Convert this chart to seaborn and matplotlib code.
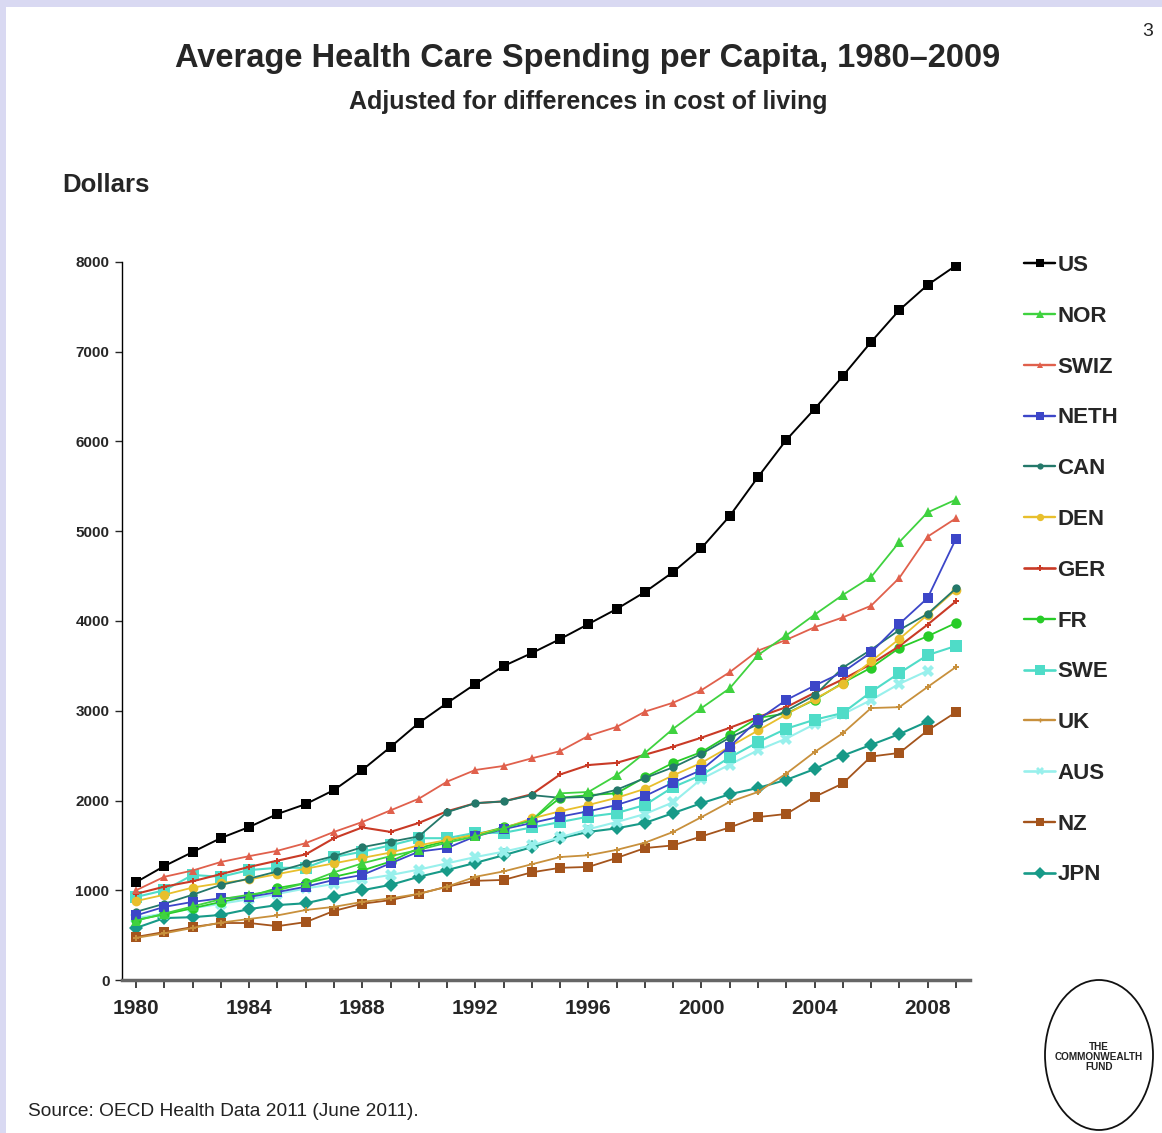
import matplotlib
matplotlib.use('Agg')
import matplotlib.pyplot as plt
from matplotlib.patches import Rectangle, Ellipse
from matplotlib.lines import Line2D
import pandas as pd
import seaborn as sns


years = list(range(1980, 2010))

us = [1090, 1270, 1426, 1582, 1705, 1850, 1960, 2117, 2340, 2596, 2864, 3086, 3298, 3498, 3643,
      3799, 3966, 4134, 4323, 4546, 4813, 5170, 5604, 6017, 6362, 6730, 7109, 7465, 7744, 7960]
nor = [660, 740, 820, 900, 950, 1000, 1080, 1200, 1300, 1380, 1450, 1530, 1600, 1690, 1780,
       2080, 2095, 2280, 2530, 2800, 3030, 3250, 3620, 3840, 4070, 4290, 4490, 4880, 5210, 5352]
swiz = [1000, 1150, 1220, 1315, 1380, 1440, 1525, 1650, 1760, 1890, 2020, 2210, 2340, 2385, 2470,
        2550, 2720, 2820, 2990, 3090, 3230, 3430, 3670, 3790, 3930, 4040, 4170, 4480, 4940, 5144]
neth = [720, 815, 870, 910, 925, 980, 1040, 1115, 1170, 1300, 1430, 1470, 1600, 1680, 1750,
        1820, 1880, 1950, 2050, 2200, 2340, 2600, 2900, 3120, 3280, 3430, 3650, 3967, 4256, 4914]
can = [760, 850, 950, 1060, 1130, 1210, 1300, 1380, 1480, 1540, 1600, 1870, 1970, 1990, 2060,
       2030, 2040, 2120, 2250, 2370, 2520, 2700, 2850, 3000, 3170, 3480, 3680, 3900, 4080, 4363]
den = [880, 950, 1030, 1080, 1120, 1180, 1240, 1300, 1360, 1420, 1500, 1560, 1620, 1690, 1800,
       1880, 1950, 2030, 2130, 2280, 2420, 2600, 2780, 2960, 3130, 3300, 3550, 3800, 4070, 4348]
ger = [960, 1040, 1100, 1180, 1260, 1330, 1400, 1580, 1700, 1650, 1750, 1880, 1970, 1990, 2070,
       2290, 2395, 2420, 2510, 2600, 2700, 2810, 2930, 3040, 3200, 3350, 3520, 3720, 3960, 4218]
fr = [670, 730, 800, 870, 930, 1025, 1080, 1150, 1220, 1320, 1470, 1550, 1620, 1700, 1780,
      2030, 2060, 2080, 2260, 2420, 2540, 2730, 2920, 2970, 3120, 3310, 3480, 3700, 3830, 3978]
swe = [925, 1000, 1170, 1150, 1225, 1250, 1250, 1370, 1430, 1500, 1580, 1580, 1640, 1640, 1700,
       1760, 1820, 1860, 1950, 2150, 2283, 2480, 2650, 2800, 2900, 2975, 3210, 3420, 3620, 3722]
uk = [470, 520, 580, 640, 680, 720, 780, 815, 870, 910, 960, 1040, 1150, 1210, 1290,
      1370, 1390, 1450, 1530, 1650, 1815, 1985, 2095, 2300, 2540, 2750, 3030, 3040, 3265, 3487]
aus = [690, 740, 800, 850, 900, 960, 1020, 1070, 1120, 1170, 1230, 1300, 1370, 1430, 1500,
       1590, 1680, 1760, 1850, 1980, 2240, 2400, 2560, 2690, 2850, 2960, 3120, 3300, 3445]
nz = [480, 535, 590, 635, 635, 600, 645, 770, 850, 890, 960, 1040, 1105, 1115, 1200,
      1250, 1260, 1360, 1470, 1500, 1600, 1700, 1815, 1850, 2040, 2190, 2490, 2530, 2780, 2983]
jpn = [580, 690, 700, 725, 790, 835, 855, 925, 1000, 1060, 1150, 1225, 1305, 1390, 1480,
       1580, 1650, 1690, 1750, 1860, 1970, 2070, 2140, 2230, 2350, 2500, 2620, 2740, 2880]

countries = ['US', 'NOR', 'SWIZ', 'NETH', 'CAN', 'DEN', 'GER', 'FR', 'SWE', 'UK', 'AUS', 'NZ', 'JPN']
series = [us, nor, swiz, neth, can, den, ger, fr, swe, uk, aus, nz, jpn]

# colour, marker, marker size, line width
styles = {
    'US':   ('#000000', 's', 7.5, 1.4),
    'NOR':  ('#3fd23f', '^', 7, 1.3),
    'SWIZ': ('#e0604c', '^', 6, 1.3),
    'NETH': ('#3c46c8', 's', 7, 1.3),
    'CAN':  ('#24786a', 'o', 6, 1.3),
    'DEN':  ('#e8bf2c', 'o', 7, 1.3),
    'GER':  ('#c93a26', 'P', 5, 1.5),
    'FR':   ('#28cc28', 'o', 7.5, 1.3),
    'SWE':  ('#4fdcc8', 's', 9, 1.5),
    'UK':   ('#c8903c', 'P', 4, 1.3),
    'AUS':  ('#98f0ec', 'X', 8, 1.5),
    'NZ':   ('#a4541c', 's', 7, 1.3),
    'JPN':  ('#179a88', 'D', 7.5, 1.5),
}

rows = []
for name, vals in zip(countries, series):
    for y, v in zip(years, vals):
        rows.append({'year': y, 'country': name, 'value': v})
df = pd.DataFrame(rows)

sns.set_style('white')
fam = ['Liberation Sans Narrow', 'Liberation Sans', 'DejaVu Sans']
plt.rcParams['font.family'] = fam

fig = plt.figure(figsize=(11.62, 11.33), dpi=100)
fig.patch.set_facecolor('white')
# lavender slide frame
fig.patches.append(Rectangle((0, 1 - 7 / 1133), 1, 7 / 1133, transform=fig.transFigure,
                             facecolor='#d9d9f2', edgecolor='none', zorder=0))
fig.patches.append(Rectangle((0, 0), 6 / 1162, 1, transform=fig.transFigure,
                             facecolor='#d9d9f2', edgecolor='none', zorder=0))

ax = fig.add_axes([122 / 1162, 153 / 1133, 848 / 1162, 718 / 1133])

draw_order = ['JPN', 'NZ', 'AUS', 'UK', 'SWE', 'FR', 'GER', 'DEN', 'CAN', 'NETH', 'SWIZ', 'NOR', 'US']
for name in draw_order:
    c, m, ms, lw = styles[name]
    sub = df[df['country'] == name]
    sns.lineplot(data=sub, x='year', y='value', ax=ax, color=c, marker=m, markersize=ms,
                 markeredgewidth=0, linewidth=lw, legend=False)

ax.set_xlim(1979.5, 2009.5)
ax.set_ylim(0, 8000)
ax.set_xlabel('')
ax.set_ylabel('')
ax.set_xticks(range(1980, 2009, 4))
ax.set_xticks(range(1980, 2010), minor=True)
ax.set_yticks(range(0, 8001, 1000))
for lab in ax.get_xticklabels():
    lab.set_fontsize(15)
    lab.set_fontweight('bold')
for lab in ax.get_yticklabels():
    lab.set_fontsize(11)
    lab.set_fontweight('bold')
ax.tick_params(axis='x', which='both', direction='out', length=6, width=1.2, color='#222222',
               bottom=True, pad=8)
ax.tick_params(axis='y', direction='out', length=5, width=1, left=True, pad=4)
sns.despine(ax=ax)
ax.spines['left'].set_color('#000000')
ax.spines['left'].set_linewidth(1)
ax.spines['bottom'].set_color('#666666')
ax.spines['bottom'].set_linewidth(2.5)

handles = []
for name in countries:
    c, m, ms, lw = styles[name]
    handles.append(Line2D([0], [0], color=c, marker=m, markersize=ms * 0.75,
                          markeredgewidth=0, linewidth=lw + 0.4))
leg = fig.legend(handles, countries, loc='upper left', bbox_to_anchor=(1013 / 1162, 1 - 244 / 1133),
                 frameon=False, prop={'family': fam, 'weight': 'bold', 'size': 16},
                 handlelength=1.4, handletextpad=0.1, labelspacing=1.34, borderpad=0)

fig.text(0.506, 1 - 58 / 1133, 'Average Health Care Spending per Capita, 1980\u20132009',
         ha='center', va='center', fontsize=23.5, fontweight='bold')
fig.text(0.506, 1 - 102 / 1133, 'Adjusted for differences in cost of living',
         ha='center', va='center', fontsize=18, fontweight='bold')
fig.text(62 / 1162, 1 - 185 / 1133, 'Dollars', ha='left', va='center', fontsize=18.5,
         fontweight='bold')
fig.text(1148 / 1162, 1 - 32 / 1133, '3', ha='center', va='center', fontsize=14)
fig.text(28 / 1162, 1 - 1112 / 1133, 'Source: OECD Health Data 2011 (June 2011).',
         ha='left', va='center', fontsize=13.8, color='#222222')

fig.patches.append(Ellipse((1099 / 1162, 1 - 1055 / 1133), 108 / 1162, 150 / 1133,
                           transform=fig.transFigure, facecolor='white', edgecolor='#111111',
                           linewidth=1.3))
fig.text(1099 / 1162, 1 - 1057 / 1133, 'THE\nCOMMONWEALTH\nFUND', ha='center', va='center',
         fontsize=7.2, fontweight='bold', linespacing=1.0, color='#222222')

fig.savefig('out.png', dpi=100, facecolor=fig.get_facecolor())
